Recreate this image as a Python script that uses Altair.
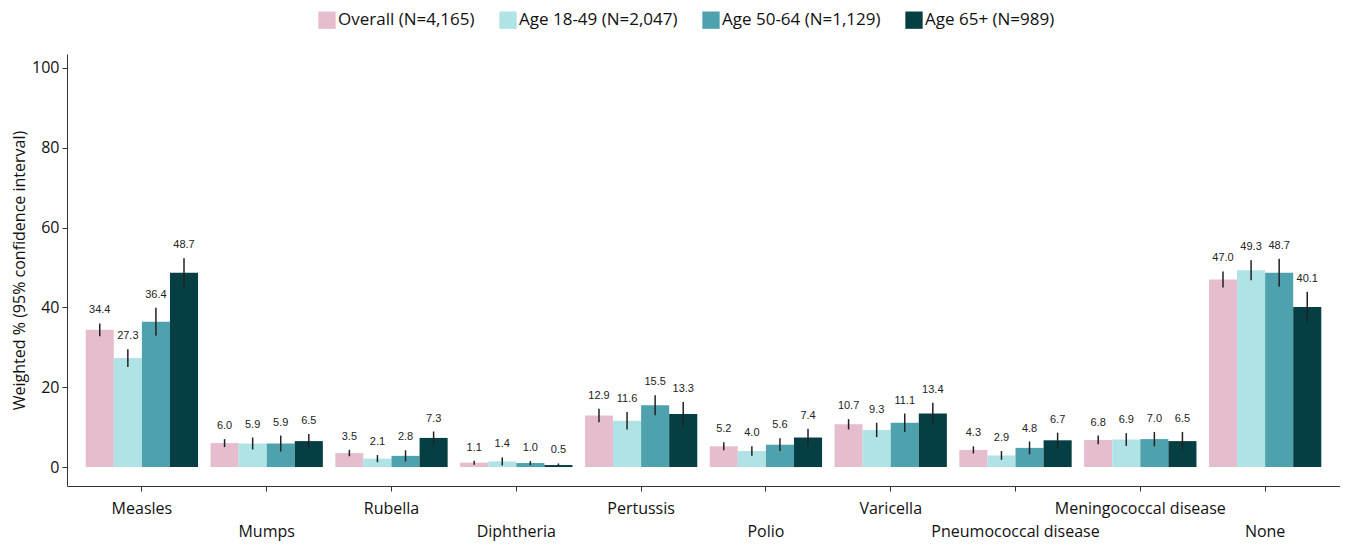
import altair as alt
import pandas as pd

categories = ["Measles", "Mumps", "Rubella", "Diphtheria", "Pertussis", "Polio",
              "Varicella", "Pneumococcal disease", "Meningococcal disease", "None"]
groups = ["Overall (N=4,165)", "Age 18-49 (N=2,047)", "Age 50-64 (N=1,129)", "Age 65+ (N=989)"]
colors = ["#E5BDCE", "#B0E3E6", "#4FA1AE", "#053F44"]

overall = [34.4, 6.0, 3.5, 1.1, 12.9, 5.2, 10.7, 4.3, 6.8, 47.0]
age18_49 = [27.3, 5.9, 2.1, 1.4, 11.6, 4.0, 9.3, 2.9, 6.9, 49.3]
age50_64 = [36.4, 5.9, 2.8, 1.0, 15.5, 5.6, 11.1, 4.8, 7.0, 48.7]
age65 = [48.7, 6.5, 7.3, 0.5, 13.3, 7.4, 13.4, 6.7, 6.5, 40.1]

# 95% CI half-widths
ci_overall = [1.6, 1.0, 0.8, 0.5, 1.7, 1.0, 1.3, 0.9, 1.1, 2.0]
ci_age18_49 = [2.2, 1.5, 0.9, 1.0, 2.2, 1.2, 1.8, 1.1, 1.6, 2.5]
ci_age50_64 = [3.5, 2.0, 1.4, 0.5, 2.5, 1.6, 2.3, 1.6, 1.8, 3.5]
ci_age65 = [3.6, 1.8, 1.6, 0.4, 3.0, 2.2, 2.7, 1.9, 2.3, 3.8]

rows = []
for g, vals, cis in zip(groups, [overall, age18_49, age50_64, age65],
                        [ci_overall, ci_age18_49, ci_age50_64, ci_age65]):
    for c, v, e in zip(categories, vals, cis):
        rows.append({"category": c, "group": g, "value": v, "lo": v - e, "hi": v + e})
df = pd.DataFrame(rows)

second_row = ["Mumps", "Diphtheria", "Polio", "Pneumococcal disease", "None"]
label_expr = ("indexof(" + str(second_row) + ", datum.value) >= 0 ? ['', datum.value] : datum.value")

x = alt.X("category:N", sort=categories, title=None,
          scale=alt.Scale(paddingInner=0.1, paddingOuter=0.15),
          axis=alt.Axis(labelAngle=0, labelExpr=label_expr, labelFontSize=16,
                        labelFont="Open Sans", labelColor="#111", labelLineHeight=23,
                        labelPadding=17, tickSize=5, tickColor="#333", domainColor="#333",
                        labelBaseline="middle"))
xo = alt.XOffset("group:N", sort=groups, scale=alt.Scale(paddingInner=0, paddingOuter=0))
yscale = alt.Scale(domain=[-4.75, 103.5], nice=False, zero=False)

base = alt.Chart(df)

bars = base.mark_bar().encode(
    x=x, xOffset=xo,
    y=alt.Y("value:Q", scale=yscale,
            title="Weighted % (95% confidence interval)",
            axis=alt.Axis(values=[0, 20, 40, 60, 80, 100], grid=False, labelFontSize=16,
                          labelFont="Open Sans", labelColor="#111", titleFont="Open Sans",
                          titleFontSize=16, titleFontWeight="normal", titleColor="#111",
                          tickSize=5, tickColor="#333", domainColor="#333", labelPadding=3,
                          titlePadding=4)),
    y2=alt.datum(0),
    color=alt.Color("group:N", sort=groups, scale=alt.Scale(domain=groups, range=colors),
                    legend=alt.Legend(title=None, orient="none", direction="horizontal",
                                      legendX=251, legendY=-43, symbolType="square",
                                      symbolSize=300, symbolStrokeWidth=0, symbolOpacity=1,
                                      labelFontSize=17, labelFont="Open Sans",
                                      labelColor="#111", labelOffset=2, columnPadding=24)),
)

rules = base.mark_rule(color="#222", strokeWidth=1.5).encode(
    x=x, xOffset=xo, y=alt.Y("lo:Q", scale=yscale), y2="hi:Q"
)

labels = base.mark_text(fontSize=11, font="Liberation Sans", color="#222", dy=-8,
                        baseline="bottom").encode(
    x=x, xOffset=xo, y=alt.Y("hi:Q", scale=yscale),
    text=alt.Text("value:Q", format=".1f")
)

chart = alt.layer(bars, rules, labels).properties(
    width=1273, height=432,
    autosize=alt.AutoSizeParams(type="none"),
    padding={"left": 59, "top": 46, "right": 0, "bottom": 58},
    background="white",
).configure_view(stroke=None)

chart.save("out.html", embed_options={"renderer": "svg", "actions": False})
